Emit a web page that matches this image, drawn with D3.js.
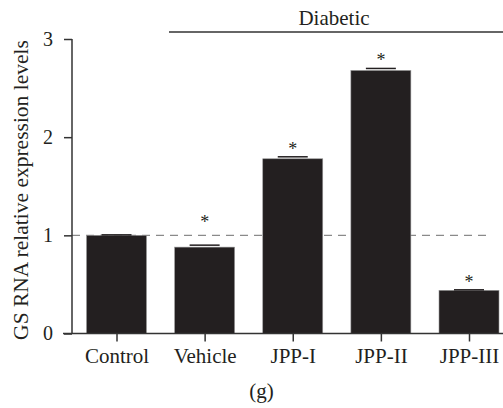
<!DOCTYPE html>
<html>
<head>
<meta charset="utf-8">
<script src="https://cdn.jsdelivr.net/npm/d3@7"></script>
<style>
  body { margin: 0; background: #fff; }
  text { font-family: "Liberation Serif", "DejaVu Serif", serif; fill: #231f20; }
</style>
</head>
<body>
<div id="chart"></div>
<script>
// Data
const groups = ["Control", "Vehicle", "JPP-I", "JPP-II", "JPP-III"];
const means = [1.0, 0.88, 1.78, 2.68, 0.44];
const errors = [0.005, 0.02, 0.02, 0.02, 0.005];
const starred = [false, true, true, true, true];
const yTicks = [0, 1, 2, 3];

const width = 503;
const height = 408;

const svg = d3.select("#chart")
    .append("svg")
    .attr("width", width)
    .attr("height", height);

// Scales
const xPos = d3.scalePoint()
    .domain(groups)
    .range([116.5, 469]);

const y = d3.scaleLinear()
    .domain([0, 3])
    .range([333.5, 39]);

const barW = 60;
const fontSize = "21px";

// Dashed reference line at 1
svg.append("line")
    .attr("x1", 72)
    .attr("x2", 492)
    .attr("y1", y(1))
    .attr("y2", y(1))
    .attr("stroke", "#8a8a8a")
    .attr("stroke-width", 1.2)
    .attr("stroke-dasharray", "8,6");

// Bars
svg.selectAll("rect.bar")
    .data(groups)
    .join("rect")
    .attr("class", "bar")
    .attr("x", d => xPos(d) - barW / 2)
    .attr("width", barW)
    .attr("y", (d, i) => y(means[i]))
    .attr("height", (d, i) => y(0) - y(means[i]))
    .attr("fill", "#231f20")
    .attr("stroke", "#9a9a9a")
    .attr("stroke-width", 0.6);

// Error caps
svg.selectAll("line.err")
    .data(groups)
    .join("line")
    .attr("class", "err")
    .attr("x1", d => xPos(d) - 15)
    .attr("x2", d => xPos(d) + 15)
    .attr("y1", (d, i) => y(means[i] + errors[i]))
    .attr("y2", (d, i) => y(means[i] + errors[i]))
    .attr("stroke", "#231f20")
    .attr("stroke-width", 1.5);

// Asterisks (lifted above the dashed line when a bar ends just under it)
function starAnchor(i) {
    const top = means[i] + errors[i];
    return Math.abs(top - 1) < 0.15 ? 1.05 : top;
}

svg.selectAll("text.star")
    .data(groups.filter((d, i) => starred[i]))
    .join("text")
    .attr("class", "star")
    .attr("x", d => xPos(d))
    .attr("y", d => y(starAnchor(groups.indexOf(d))) - 2)
    .attr("text-anchor", "middle")
    .style("font-size", "18px")
    .text("*");

// Y axis
const yAxis = d3.axisLeft(y)
    .tickValues(yTicks)
    .tickSize(8)
    .tickPadding(11)
    .tickFormat(d3.format("d"));

const gy = svg.append("g")
    .attr("transform", "translate(72,0)")
    .call(yAxis);
gy.select(".domain").attr("stroke", "#333").attr("stroke-width", 1.5)
    .attr("d", `M0,${y(3)}V${y(0)}`);
gy.selectAll(".tick line").attr("stroke", "#333").attr("stroke-width", 1.5);
gy.selectAll(".tick text")
    .style("font-family", "Liberation Serif, serif")
    .style("font-size", "20px")
    .attr("fill", "#231f20");

// X axis
const xAxis = d3.axisBottom(xPos)
    .tickSize(8)
    .tickPadding(7);

const gx = svg.append("g")
    .attr("transform", `translate(0,${y(0)})`)
    .call(xAxis);
gx.select(".domain").attr("stroke", "#333").attr("stroke-width", 1.5)
    .attr("d", "M63,0H503");
gx.selectAll(".tick line").attr("stroke", "#333").attr("stroke-width", 1.5);
gx.selectAll(".tick text")
    .style("font-family", "Liberation Serif, serif")
    .style("font-size", fontSize)
    .attr("fill", "#231f20");

// Diabetic bracket
svg.append("line")
    .attr("x1", 169)
    .attr("x2", 503)
    .attr("y1", 32)
    .attr("y2", 32)
    .attr("stroke", "#333")
    .attr("stroke-width", 1.5);

svg.append("text")
    .attr("x", 334)
    .attr("y", 25)
    .attr("text-anchor", "middle")
    .style("font-size", fontSize)
    .text("Diabetic");

// Y label
svg.append("text")
    .attr("transform", "translate(28,190) rotate(-90)")
    .attr("text-anchor", "middle")
    .style("font-size", "21.5px")
    .text("GS RNA relative expression levels");

// Panel label
svg.append("text")
    .attr("x", 261.5)
    .attr("y", 398)
    .attr("text-anchor", "middle")
    .style("font-size", fontSize)
    .text("(g)");
</script>
</body>
</html>
